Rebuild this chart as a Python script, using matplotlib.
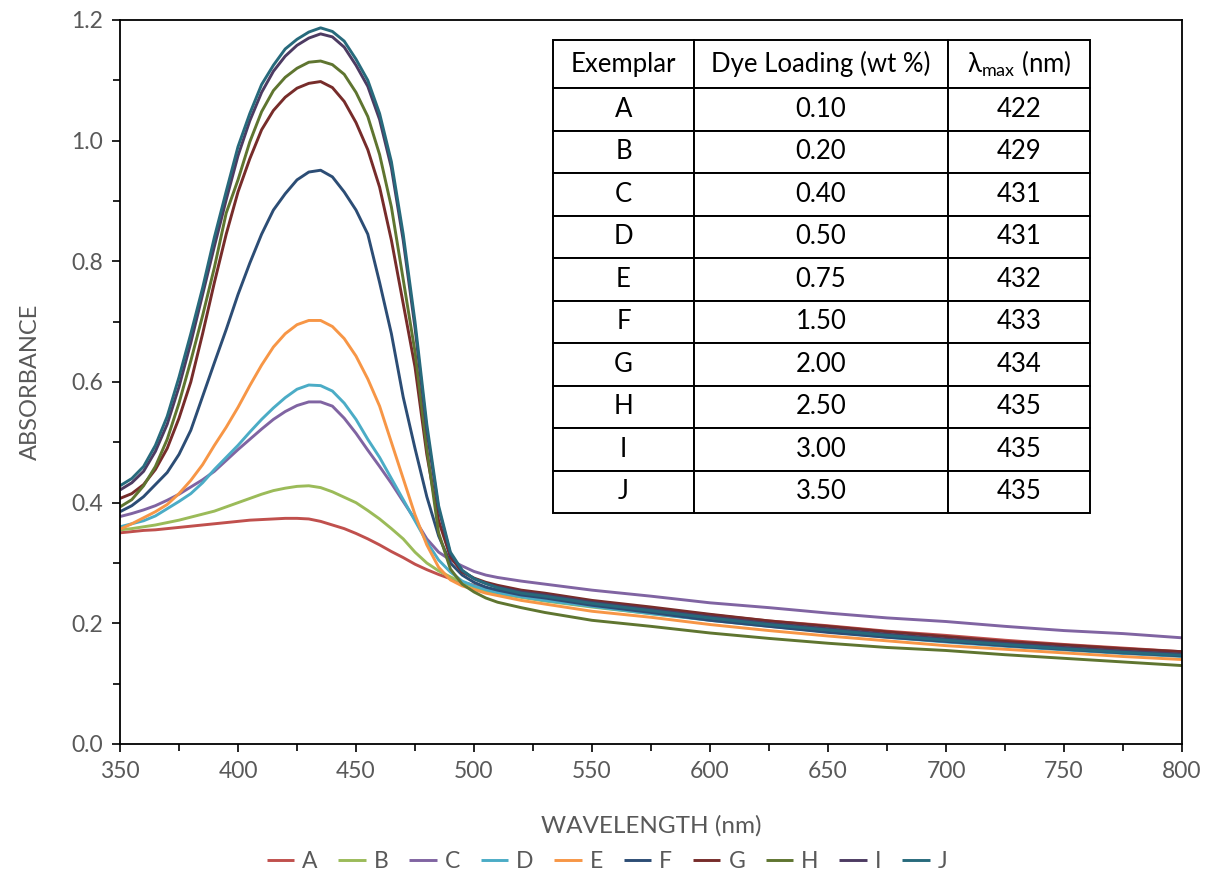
import matplotlib
matplotlib.use("Agg")
import matplotlib.pyplot as plt
from matplotlib.ticker import MultipleLocator, FormatStrFormatter

plt.rcParams['font.family'] = ['Lato', 'DejaVu Sans']

wavelength = [350, 355, 360, 365, 370, 375, 380, 385, 390, 395, 400, 405, 410, 415, 420,
              425, 430, 435, 440, 445, 450, 455, 460, 465, 470, 475, 480, 485, 490, 495, 500, 505, 510,
              520, 530, 550, 575, 600, 625, 650, 675, 700, 725, 750, 775, 800]

A = [0.350, 0.352, 0.354, 0.355, 0.357, 0.359, 0.361, 0.363, 0.365, 0.367, 0.369, 0.371, 0.372, 0.373, 0.374,
     0.374, 0.373, 0.369, 0.363, 0.357, 0.349, 0.340, 0.330, 0.319, 0.309, 0.298, 0.289, 0.281, 0.274, 0.268, 0.263, 0.258, 0.255,
     0.249, 0.244, 0.235, 0.225, 0.214, 0.204, 0.196, 0.187, 0.180, 0.172, 0.165, 0.159, 0.153]
B = [0.355, 0.357, 0.360, 0.363, 0.367, 0.371, 0.376, 0.381, 0.386, 0.393, 0.400, 0.407, 0.414, 0.420, 0.424,
     0.427, 0.428, 0.425, 0.418, 0.409, 0.400, 0.387, 0.373, 0.357, 0.340, 0.318, 0.300, 0.287, 0.277, 0.268, 0.260, 0.253, 0.249,
     0.243, 0.237, 0.227, 0.216, 0.206, 0.196, 0.187, 0.179, 0.172, 0.165, 0.159, 0.154, 0.149]
C = [0.377, 0.382, 0.388, 0.395, 0.404, 0.414, 0.426, 0.438, 0.452, 0.470, 0.488, 0.505, 0.522, 0.538, 0.551,
     0.561, 0.567, 0.567, 0.560, 0.540, 0.515, 0.487, 0.460, 0.432, 0.402, 0.372, 0.340, 0.318, 0.305, 0.295, 0.286, 0.280, 0.276,
     0.270, 0.265, 0.255, 0.245, 0.234, 0.226, 0.217, 0.209, 0.203, 0.195, 0.188, 0.183, 0.176]
D = [0.360, 0.365, 0.370, 0.378, 0.390, 0.402, 0.415, 0.433, 0.455, 0.475, 0.495, 0.517, 0.538, 0.557, 0.574,
     0.588, 0.595, 0.594, 0.585, 0.565, 0.538, 0.505, 0.475, 0.440, 0.405, 0.370, 0.335, 0.305, 0.285, 0.270, 0.262, 0.256, 0.251,
     0.244, 0.238, 0.228, 0.216, 0.205, 0.195, 0.186, 0.177, 0.169, 0.162, 0.156, 0.150, 0.145]
E = [0.356, 0.365, 0.375, 0.385, 0.397, 0.415, 0.437, 0.463, 0.495, 0.525, 0.558, 0.594, 0.628, 0.658, 0.680,
     0.695, 0.702, 0.702, 0.692, 0.672, 0.643, 0.605, 0.560, 0.500, 0.440, 0.380, 0.330, 0.293, 0.272, 0.262, 0.256, 0.250, 0.246,
     0.238, 0.232, 0.220, 0.210, 0.198, 0.188, 0.179, 0.171, 0.163, 0.157, 0.151, 0.145, 0.140]
F = [0.385, 0.395, 0.410, 0.430, 0.450, 0.480, 0.520, 0.576, 0.632, 0.687, 0.745, 0.797, 0.845, 0.885, 0.912,
     0.935, 0.948, 0.951, 0.940, 0.915, 0.885, 0.845, 0.765, 0.680, 0.575, 0.490, 0.410, 0.345, 0.300, 0.280, 0.268, 0.260, 0.255,
     0.247, 0.242, 0.230, 0.218, 0.205, 0.195, 0.185, 0.177, 0.170, 0.163, 0.157, 0.151, 0.146]
G = [0.407, 0.415, 0.430, 0.455, 0.490, 0.540, 0.600, 0.680, 0.765, 0.845, 0.915, 0.970, 1.018, 1.050, 1.072,
     1.087, 1.095, 1.098, 1.088, 1.065, 1.030, 0.985, 0.923, 0.835, 0.730, 0.625, 0.480, 0.370, 0.310, 0.285, 0.275, 0.268, 0.263,
     0.255, 0.250, 0.238, 0.227, 0.215, 0.204, 0.195, 0.186, 0.178, 0.170, 0.164, 0.158, 0.153]
H = [0.393, 0.405, 0.428, 0.460, 0.505, 0.565, 0.635, 0.710, 0.790, 0.880, 0.935, 0.998, 1.048, 1.083, 1.105,
     1.120, 1.130, 1.132, 1.126, 1.110, 1.080, 1.040, 0.977, 0.890, 0.770, 0.650, 0.490, 0.350, 0.290, 0.265, 0.252, 0.242, 0.235,
     0.226, 0.218, 0.205, 0.195, 0.184, 0.175, 0.167, 0.160, 0.155, 0.148, 0.142, 0.136, 0.130]
I = [0.421, 0.433, 0.452, 0.485, 0.530, 0.592, 0.665, 0.745, 0.825, 0.902, 0.975, 1.033, 1.080, 1.115, 1.140,
     1.158, 1.170, 1.177, 1.172, 1.155, 1.125, 1.090, 1.035, 0.955, 0.835, 0.690, 0.520, 0.390, 0.315, 0.287, 0.274, 0.266, 0.260,
     0.252, 0.247, 0.235, 0.223, 0.211, 0.200, 0.191, 0.182, 0.174, 0.167, 0.160, 0.154, 0.149]
J = [0.428, 0.440, 0.460, 0.495, 0.543, 0.608, 0.680, 0.756, 0.840, 0.916, 0.990, 1.045, 1.093, 1.125, 1.152,
     1.168, 1.180, 1.187, 1.181, 1.165, 1.135, 1.100, 1.045, 0.965, 0.845, 0.700, 0.530, 0.395, 0.318, 0.288, 0.274, 0.266, 0.259,
     0.250, 0.245, 0.233, 0.221, 0.209, 0.198, 0.189, 0.180, 0.172, 0.165, 0.158, 0.152, 0.147]

series_names = ["A", "B", "C", "D", "E", "F", "G", "H", "I", "J"]
series_values = [A, B, C, D, E, F, G, H, I, J]
colors = ["#C0504D", "#9BBB59", "#8064A2", "#4BACC6", "#F79646",
          "#2C4D75", "#772C2A", "#5F7530", "#4D3B62", "#276A7C"]

table_header = ["Exemplar", "Dye Loading (wt %)", "λ$_\\mathregular{max}$ (nm)"]
table_loading = ["0.10", "0.20", "0.40", "0.50", "0.75", "1.50", "2.00", "2.50", "3.00", "3.50"]
table_lmax = ["422", "429", "431", "431", "432", "433", "434", "435", "435", "435"]

W, H_PX = 1214, 882
fig = plt.figure(figsize=(W / 100, H_PX / 100), dpi=100)
ax = fig.add_axes([120 / W, 1 - 744 / H_PX, (1182 - 120) / W, (744 - 20) / H_PX])

for name, vals, col in zip(series_names, series_values, colors):
    ax.plot(wavelength, vals, color=col, lw=2.1, label=name,
            solid_joinstyle='round', solid_capstyle='butt')

ax.set_xlim(350, 800)
ax.set_ylim(0, 1.2)
ax.xaxis.set_major_locator(MultipleLocator(50))
ax.xaxis.set_minor_locator(MultipleLocator(25))
ax.yaxis.set_major_locator(MultipleLocator(0.2))
ax.yaxis.set_minor_locator(MultipleLocator(0.1))
ax.yaxis.set_major_formatter(FormatStrFormatter('%.1f'))

grey = "#595959"
ax.tick_params(axis='both', which='major', direction='out', length=6, width=1.2,
               color='black', labelsize=16.5, labelcolor=grey, pad=6)
ax.tick_params(axis='both', which='minor', direction='out', length=5, width=1.2, color='black')
for s in ax.spines.values():
    s.set_linewidth(1.3)
    s.set_color('black')

ax.set_xlabel("WAVELENGTH (nm)", fontsize=17.5, color=grey, labelpad=24)
ax.set_ylabel("ABSORBANCE", fontsize=17, color=grey, labelpad=22)

# table
cell_text = [[n, l, m] for n, l, m in zip(series_names, table_loading, table_lmax)]
x0 = (553 - 120) / 1062
x1 = (1090 - 120) / 1062
y_top = (744 - 40) / 724
y_bot = (744 - 513) / 724
tbl = ax.table(cellText=cell_text, colLabels=table_header, cellLoc='center',
               colWidths=[141, 254, 142],
               bbox=[x0, y_bot, x1 - x0, y_top - y_bot], zorder=5)
tbl.auto_set_font_size(False)
for (r, c), cell in tbl.get_celld().items():
    cell.set_linewidth(1.4)
    cell.set_edgecolor('black')
    cell.set_facecolor('white')
    cell.get_text().set_fontsize(18.5)
    cell.get_text().set_color('black')
    cell.set_height(48 if r == 0 else 42.5)

leg = fig.legend(loc='center', bbox_to_anchor=(0.5, 1 - 862 / H_PX), ncol=10, frameon=False,
                 fontsize=16.5, handlelength=1.2, handletextpad=0.35, columnspacing=0.9)
for t in leg.get_texts():
    t.set_color(grey)

fig.savefig("out.png", dpi=100)
